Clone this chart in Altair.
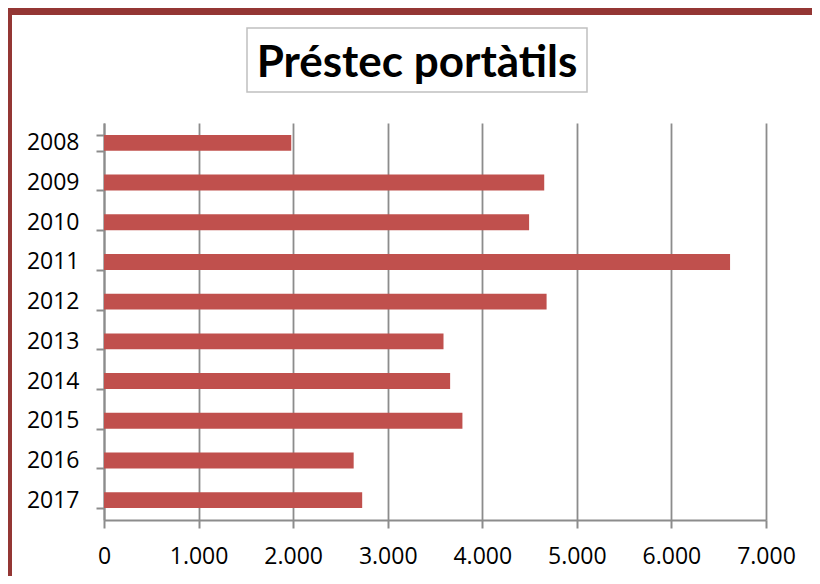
import altair as alt
import pandas as pd

years = ["2008", "2009", "2010", "2011", "2012", "2013", "2014", "2015", "2016", "2017"]
loans = [1980, 4655, 4495, 6620, 4680, 3590, 3660, 3790, 2640, 2730]
title_text = ["Préstec portàtils"]
x_ticks = [0, 1000, 2000, 3000, 4000, 5000, 6000, 7000]

df = pd.DataFrame({"year": years, "loans": loans})
tdf = pd.DataFrame({"t": title_text})

TITLE_FONT = "Lato"
FONT = "Open Sans"
GRID = "#8c8c8c"
BORDER = "#943634"

bars = alt.Chart(df).mark_bar(color="#C0504D").encode(
    x=alt.X("loans:Q",
            scale=alt.Scale(domain=[0, 7000], nice=False, zero=True),
            axis=alt.Axis(values=x_ticks, title=None, grid=True, gridColor=GRID,
                          gridWidth=1.8, domainColor=GRID, domainWidth=2,
                          tickColor=GRID, tickWidth=2, tickSize=8,
                          labelFont=FONT, labelFontSize=23, labelColor="#000000",
                          labelPadding=17, labelBaseline="top",
                          labelFlush=False, labelOverlap=False, labelBound=False,
                          labelExpr="replace(format(datum.value, ','), ',', '.')")),
    y=alt.Y("year:N", sort=years,
            scale=alt.Scale(paddingInner=0.6, paddingOuter=0.3),
            axis=alt.Axis(title=None, grid=False, tickBand="extent",
                          domainColor=GRID, domainWidth=2, tickColor=GRID,
                          tickWidth=2, tickSize=8, labelFont=FONT,
                          labelFontSize=23, labelColor="#000000",
                          labelPadding=17, labelOverlap=False, labelBound=False)),
)

deco = alt.Chart(tdf)

top_border = deco.mark_rect(color=BORDER).encode(
    x=alt.value(-96), x2=alt.value(708), y=alt.value(-115), y2=alt.value(-108))
left_border = deco.mark_rect(color=BORDER).encode(
    x=alt.value(-96), x2=alt.value(-92), y=alt.value(-115), y2=alt.value(453))
title_box = deco.mark_rect(fill="#ffffff", stroke="#c0c0c0", strokeWidth=1.5).encode(
    x=alt.value(143), x2=alt.value(483), y=alt.value(-95), y2=alt.value(-31))
title = deco.mark_text(font=TITLE_FONT, fontSize=44, fontWeight="bold", color="#000000",
                       align="center", baseline="alphabetic").encode(
    x=alt.value(313), y=alt.value(-46), text="t:N")

chart = alt.layer(bars, top_border, left_border, title_box, title).properties(
    width=662, height=397,
    autosize=alt.AutoSizeParams(type="none"),
    padding={"left": 96, "top": 115, "right": 46, "bottom": 56},
    background="#ffffff",
).configure_view(stroke=None)

chart.save("out.html", embed_options={"renderer": "svg", "actions": False})
